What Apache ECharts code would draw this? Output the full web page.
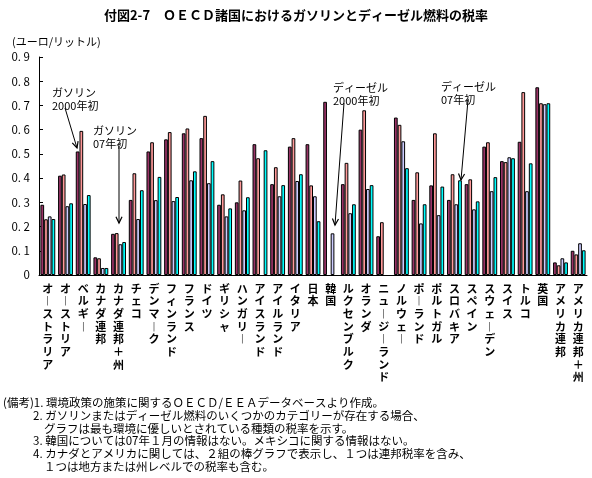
<!DOCTYPE html>
<html>
<head>
<meta charset="utf-8">
<script src="https://cdn.jsdelivr.net/npm/echarts@6/dist/echarts.min.js"></script>
<style>
  html, body { margin: 0; padding: 0; background: #fff; }
  #main { width: 592px; height: 478px; }
</style>
</head>
<body>
<div id="main"></div>
<script>
// 国名
var countries = ['オーストラリア', 'オーストリア', 'ベルギー', 'カナダ連邦', 'カナダ連邦＋州', 'チェコ',
    'デンマーク', 'フィンランド', 'フランス', 'ドイツ', 'ギリシャ', 'ハンガリー', 'アイスランド',
    'アイルランド', 'イタリア', '日本', '韓国', 'ルクセンブルク', 'オランダ', 'ニュージーランド',
    'ノルウェー', 'ポーランド', 'ポルトガル', 'スロバキア', 'スペイン', 'スウェーデン', 'スイス',
    'トルコ', '英国', 'アメリカ連邦', 'アメリカ連邦＋州'];

// ユーロ/リットル
var gas2000    = [0.29, 0.41, 0.51, 0.073, 0.17, 0.31, 0.51, 0.56, 0.585, 0.565, 0.29, 0.30, 0.54,
    0.375, 0.53, 0.54, 0.715, 0.375, 0.60, 0.16, 0.65, 0.31, 0.37, 0.31, 0.375, 0.53, 0.47,
    0.55, 0.775, 0.052, 0.10];
var gas07      = [0.23, 0.415, 0.595, 0.069, 0.173, 0.42, 0.548, 0.59, 0.605, 0.657, 0.333, 0.39, 0.482,
    0.445, 0.565, 0.37, null, 0.463, 0.68, 0.218, 0.62, 0.424, 0.585, 0.416, 0.395, 0.548, 0.466,
    0.755, 0.709, 0.04, 0.085];
var diesel2000 = [0.242, 0.284, 0.293, 0.029, 0.127, 0.231, 0.309, 0.305, 0.391, 0.379, 0.242, 0.267, null,
    0.325, 0.388, 0.325, 0.172, 0.255, 0.355, null, 0.552, 0.213, 0.247, 0.292, 0.271, 0.346, 0.486,
    0.346, 0.705, 0.069, 0.131];
var diesel07   = [0.231, 0.296, 0.33, 0.029, 0.136, 0.35, 0.405, 0.322, 0.428, 0.47, 0.275, 0.321, 0.515,
    0.371, 0.416, 0.222, null, 0.292, 0.371, null, 0.441, 0.292, 0.365, 0.391, 0.304, 0.404, 0.482,
    0.461, 0.709, 0.052, 0.102];

var seriesNames = ['ガソリン2000年初', 'ガソリン07年初', 'ディーゼル2000年初', 'ディーゼル07年初'];
var colors      = ['#993366', '#FF9999', '#CCCCFF', '#00FFFF'];
var values      = [gas2000, gas07, diesel2000, diesel07];

var notes = [
    {x: 3,  t: '(備考)1. 環境政策の施策に関するＯＥＣＤ/ＥＥＡデータベースより作成。'},
    {x: 33, t: '2. ガソリンまたはディーゼル燃料のいくつかのカテゴリーが存在する場合、'},
    {x: 44, t: 'グラフは最も環境に優しいとされている種類の税率を示す。'},
    {x: 33, t: '3. 韓国については07年１月の情報はない。メキシコに関する情報はない。'},
    {x: 33, t: '4. カナダとアメリカに関しては、２組の棒グラフで表示し、１つは連邦税率を含み、'},
    {x: 44, t: '１つは地方または州レベルでの税率も含む。'}
];

var font = '"Noto Sans CJK JP", sans-serif';

var dom   = document.getElementById('main');
var chart = echarts.init(dom);

var series = [];
for (var i = 0; i < values.length; i++) {
    series.push({
        name: seriesNames[i],
        type: 'bar',
        data: values[i],
        barGap: '0%',
        barCategoryGap: '16%',
        itemStyle: {
            color: colors[i],
            borderColor: '#000',
            borderWidth: 1
        },
        animation: false
    });
}

var graphic = [];
for (var i = 0; i < notes.length; i++) {
    graphic.push({
        type: 'text', left: notes[i].x, top: 397 + i * 12.7,
        style: {text: notes[i].t, font: '11.5px ' + font, fill: '#000'}
    });
}

// 注釈
function label(x, y, text) {
    graphic.push({
        type: 'text', left: x, top: y,
        style: {text: text, font: '11px ' + font, fill: '#000', lineHeight: 13}
    });
}
function arrow(x1, y1, x2, y2) {
    graphic.push({type: 'line', shape: {x1: x1, y1: y1, x2: x2, y2: y2},
        style: {stroke: '#000', lineWidth: 1}});
    var a = Math.atan2(y2 - y1, x2 - x1);
    var len = 7;
    graphic.push({type: 'polyline', shape: {points: [
        [x2 - len * Math.cos(a - 0.45), y2 - len * Math.sin(a - 0.45)],
        [x2, y2],
        [x2 - len * Math.cos(a + 0.45), y2 - len * Math.sin(a + 0.45)]
    ]}, style: {stroke: '#000', lineWidth: 1.2, fill: null}});
}
label(52, 86, 'ガソリン\n2000年初');
arrow(65, 108, 77, 148);
label(93, 124, 'ガソリン\n07年初');
arrow(119, 146, 119, 223);
label(333, 81, 'ディーゼル\n2000年初');
arrow(344, 103, 335, 225);
label(441, 80, 'ディーゼル\n07年初');
arrow(468, 100, 461, 180);

var option = {
    backgroundColor: '#fff',
    textStyle: {fontFamily: font},
    title: {
        text: '付図2-7　ＯＥＣＤ諸国におけるガソリンとディーゼル燃料の税率',
        left: 'center',
        top: 4,
        textStyle: {fontSize: 13, fontWeight: 'bold', color: '#000', fontFamily: font}
    },
    grid: {left: 39, right: 5, top: 57, bottom: 203},
    xAxis: {
        type: 'category',
        data: countries,
        axisLine: {lineStyle: {color: '#000', width: 1}},
        axisTick: {inside: true, length: 4, lineStyle: {color: '#000'}},
        axisLabel: {
            interval: 0,
            margin: 7,
            color: '#000',
            fontSize: 11,
            fontWeight: 'bold',
            lineHeight: 12.7,
            verticalAlign: 'top',
            formatter: function (v) {
                return v.replace(/ー/g, '︱').split('').join('\n');
            }
        }
    },
    yAxis: {
        type: 'value',
        min: 0,
        max: 0.9,
        interval: 0.1,
        name: '(ユーロ/リットル)',
        nameLocation: 'end',
        nameGap: 10,
        nameTextStyle: {color: '#000', fontSize: 11, align: 'left', padding: [0, 0, 0, -27]},
        splitLine: {show: false},
        axisLine: {show: true, lineStyle: {color: '#000', width: 1}},
        axisTick: {show: true, inside: true, length: 4, lineStyle: {color: '#000'}},
        axisLabel: {
            color: '#000',
            fontSize: 11.5,
            margin: 9,
            formatter: function (v) {
                return v === 0 ? '0' : v.toFixed(1).replace('.', '. ');
            }
        }
    },
    series: series,
    graphic: graphic
};

chart.setOption(option, true);
</script>
</body>
</html>
